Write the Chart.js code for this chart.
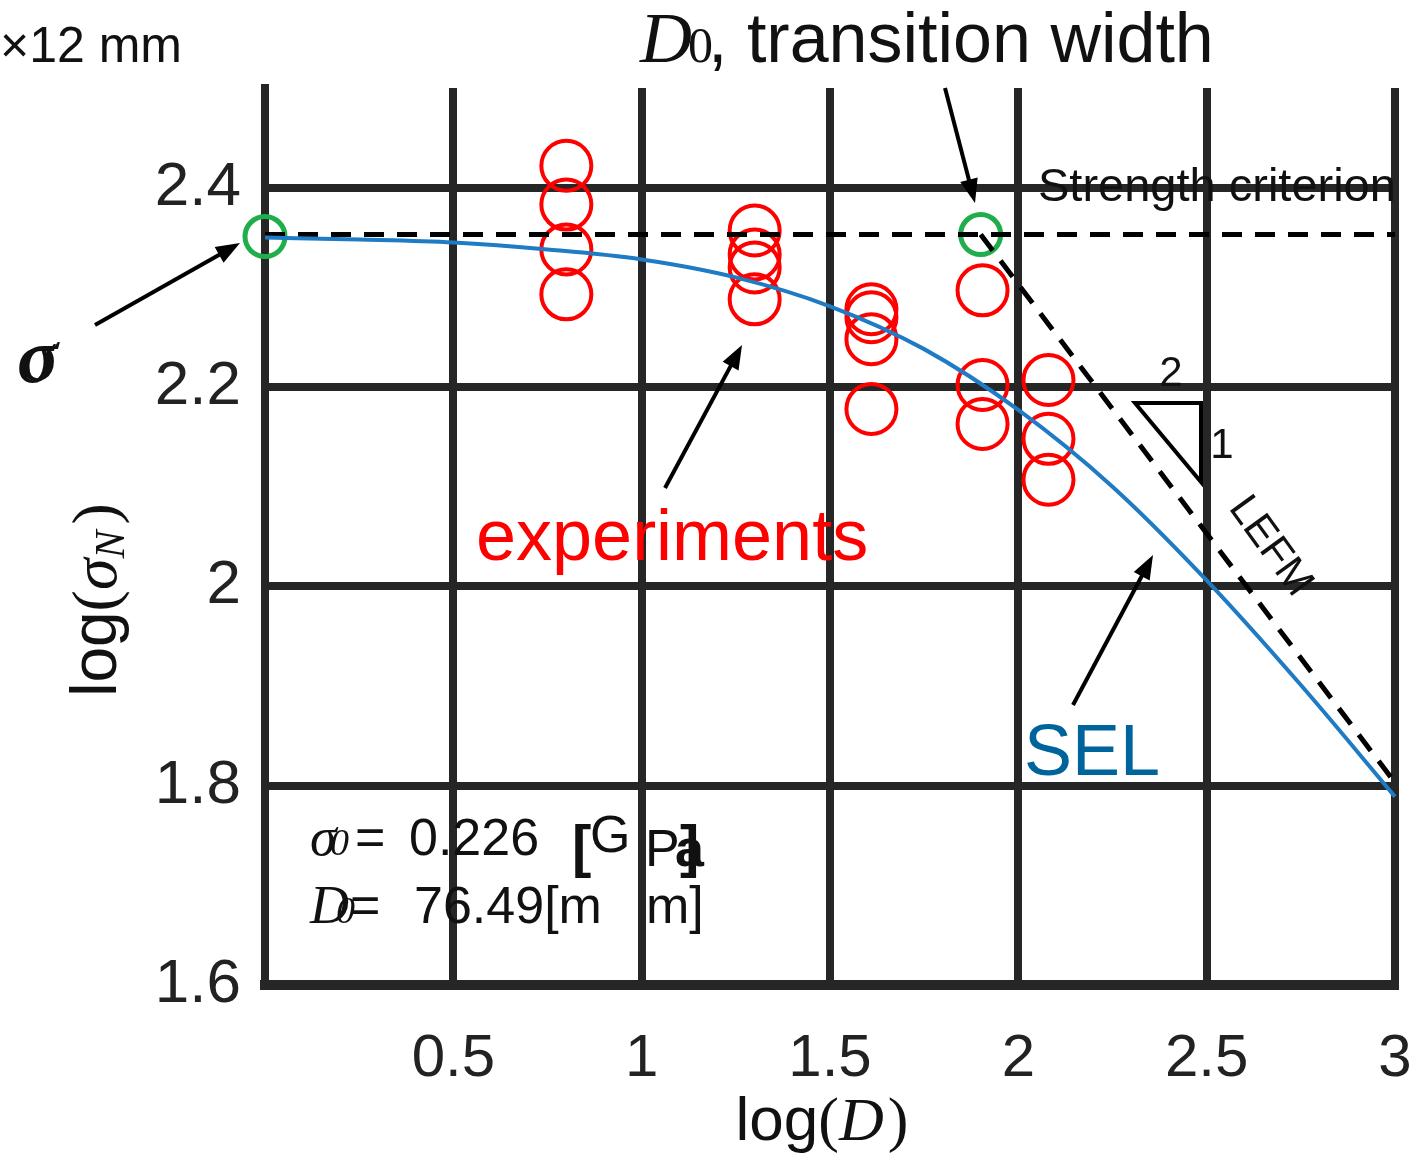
<!DOCTYPE html>
<html>
<head>
<meta charset="utf-8">
<script src="https://cdn.jsdelivr.net/npm/chart.js@4.4.0/dist/chart.umd.min.js"></script>
<style>
  html, body { margin: 0; padding: 0; background: #fff; }
  #wrap { width: 1424px; height: 1159px; }
</style>
</head>
<body>
<div id="wrap"><canvas id="sizeEffectChart" width="1424" height="1159"></canvas></div>
<script>
// x ticks and labels (log D)
const xTicks = [0, 0.5, 1, 1.5, 2, 2.5, 3];
const xTickLabels = ['', '0.5', '1', '1.5', '2', '2.5', '3'];
// y ticks and labels (log sigma_N)
const yTicks = [1.6, 1.8, 2.0, 2.2, 2.4];
const yTickLabels = ['1.6', '1.8', '2', '2.2', '2.4'];

// experiments (red circles)
const expLogD = [0.8, 0.8, 0.8, 0.8, 1.3, 1.3, 1.3, 1.3, 1.61, 1.61, 1.61, 1.61, 1.905, 1.905, 1.905, 2.08, 2.08, 2.08];
const expLogSigma = [2.422, 2.383, 2.338, 2.293, 2.357, 2.333, 2.32, 2.288, 2.278, 2.27, 2.248, 2.178, 2.297, 2.202, 2.163, 2.207, 2.148, 2.107];

// size effect law curve (blue)
const selLogD = [0, 0.25, 0.5, 0.75, 1.0, 1.25, 1.5, 1.75, 2.0, 2.25, 2.5, 2.75, 3.0];
const selLogSigma = [2.350, 2.348, 2.345, 2.338, 2.328, 2.310, 2.281, 2.238, 2.177, 2.100, 2.006, 1.901, 1.789];

// strength criterion (dashed horizontal) and LEFM asymptote (dashed, slope -1/2)
const strengthLogD = [0, 3];
const strengthLogSigma = [2.353, 2.353];
const lefmLogD = [1.9, 3];
const lefmLogSigma = [2.353, 1.803];

// green markers: sigma0 and D0
const greenLogD = [0, 1.9];
const greenLogSigma = [2.351, 2.353];

const toPoints = (xs, ys) => xs.map((x, i) => ({ x: x, y: ys[i] }));

const SANS = '"Liberation Sans", Arial, sans-serif';
const SERIF = '"Liberation Serif", "Times New Roman", serif';

function drawArrow(ctx, x1, y1, x2, y2) {
    const ang = Math.atan2(y2 - y1, x2 - x1);
    const head = 24, half = 9;
    ctx.save();
    ctx.strokeStyle = '#000';
    ctx.fillStyle = '#000';
    ctx.lineWidth = 4;
    ctx.beginPath();
    ctx.moveTo(x1, y1);
    ctx.lineTo(x2 - Math.cos(ang) * head * 0.8, y2 - Math.sin(ang) * head * 0.8);
    ctx.stroke();
    ctx.beginPath();
    ctx.moveTo(x2, y2);
    ctx.lineTo(x2 - Math.cos(ang) * head + Math.sin(ang) * half, y2 - Math.sin(ang) * head - Math.cos(ang) * half);
    ctx.lineTo(x2 - Math.cos(ang) * head - Math.sin(ang) * half, y2 - Math.sin(ang) * head + Math.cos(ang) * half);
    ctx.closePath();
    ctx.fill();
    ctx.restore();
}

function text(ctx, str, x, y, font, color, align) {
    ctx.font = font;
    ctx.fillStyle = color || '#111';
    ctx.textAlign = align || 'left';
    ctx.textBaseline = 'alphabetic';
    ctx.fillText(str, x, y);
}

// draw a sequence of text runs with different fonts, centred on cx
function runs(ctx, parts, cx, y) {
    let total = 0;
    parts.forEach(p => { ctx.font = p.font; total += ctx.measureText(p.t).width + (p.gap || 0); });
    let x = cx - total / 2;
    parts.forEach(p => {
        text(ctx, p.t, x, y + (p.dy || 0), p.font, '#111');
        ctx.font = p.font;
        x += ctx.measureText(p.t).width + (p.gap || 0);
    });
}

const annotations = {
    id: 'annotations',
    afterDraw(chart) {
        const ctx = chart.ctx;
        ctx.save();

        // top labels
        text(ctx, '×12 mm', 0, 62, '50px ' + SANS);
        text(ctx, 'D', 640, 62, 'italic 72px ' + SERIF);
        text(ctx, '0', 688, 62, '50px ' + SERIF);
        text(ctx, ', transition width', 708, 62, '70px ' + SANS);

        // sigma label on the left
        text(ctx, 'σ', 17, 382, 'italic 74px ' + SERIF);
        text(ctx, 'σ', 21, 380, 'italic 74px ' + SERIF);

        // arrows
        drawArrow(ctx, 95, 325, 240, 243);
        drawArrow(ctx, 945, 88, 975, 203);
        drawArrow(ctx, 665, 488, 742, 345);
        drawArrow(ctx, 1073, 705, 1153, 555);

        text(ctx, 'Strength criterion', 1038, 201, '47px ' + SANS);
        text(ctx, 'experiments', 476, 560, '72px ' + SANS, '#ff0000');
        text(ctx, 'SEL', 1024, 775, '72px ' + SANS, '#00649c');

        // slope triangle 2:1
        ctx.strokeStyle = '#000';
        ctx.lineWidth = 4;
        ctx.beginPath();
        ctx.moveTo(1135, 403);
        ctx.lineTo(1201, 403);
        ctx.lineTo(1201, 482);
        ctx.closePath();
        ctx.stroke();
        text(ctx, '2', 1171, 386, '42px ' + SANS, '#111', 'center');
        text(ctx, '1', 1222, 458, '42px ' + SANS, '#111', 'center');

        // LEFM rotated label
        ctx.save();
        ctx.translate(1228, 508);
        ctx.rotate(54 * Math.PI / 180);
        text(ctx, 'LEFM', 0, 0, '42px ' + SANS);
        ctx.restore();

        // parameters box
        text(ctx, 'σ', 310, 855, 'italic 54px ' + SERIF);
        text(ctx, '0', 330, 855, 'italic 38px ' + SERIF);
        text(ctx, '=', 355, 855, '52px ' + SANS);
        text(ctx, '0.226', 409, 855, '52px ' + SANS);
        text(ctx, '[', 572, 866, 'bold 58px ' + SANS);
        text(ctx, 'G', 590, 852, '52px ' + SANS);
        text(ctx, 'P', 645, 866, '52px ' + SANS);
        text(ctx, 'a', 675, 866, 'bold 52px ' + SANS);
        text(ctx, ']', 680, 866, 'bold 58px ' + SANS);

        text(ctx, 'D', 310, 923, 'italic 54px ' + SERIF);
        text(ctx, '0', 336, 923, 'italic 38px ' + SERIF);
        text(ctx, '=', 350, 923, '52px ' + SANS);
        text(ctx, '76.49[m', 414, 923, '52px ' + SANS);
        text(ctx, 'm]', 646, 923, '52px ' + SANS);

        // x axis title: log(D)
        runs(ctx, [
            { t: 'log', font: '62px ' + SANS },
            { t: '(', font: '62px ' + SERIF },
            { t: 'D', font: 'italic 62px ' + SERIF, gap: 4 },
            { t: ')', font: '62px ' + SERIF }
        ], 822, 1140);

        // y axis title: log(sigma_N), rotated
        ctx.save();
        ctx.translate(116, 600);
        ctx.rotate(-Math.PI / 2);
        runs(ctx, [
            { t: 'log', font: '64px ' + SANS },
            { t: '(', font: '64px ' + SERIF },
            { t: 'σ', font: 'italic 64px ' + SERIF },
            { t: 'N', font: 'italic 42px ' + SERIF, dy: 8, gap: 6 },
            { t: ')', font: '64px ' + SERIF }
        ], 0, 0);
        ctx.restore();

        ctx.restore();
    }
};

const gridColor = '#262626';

new Chart(document.getElementById('sizeEffectChart').getContext('2d'), {
    type: 'scatter',
    data: {
        datasets: [
            {
                label: 'SEL',
                data: toPoints(selLogD, selLogSigma),
                showLine: true,
                borderColor: '#1f7bc4',
                borderWidth: 4,
                pointRadius: 0,
                cubicInterpolationMode: 'monotone',
                clip: false
            },
            {
                label: 'Strength criterion',
                data: toPoints(strengthLogD, strengthLogSigma),
                showLine: true,
                borderColor: '#000',
                borderWidth: 5,
                borderDash: [20, 13],
                pointRadius: 0,
                clip: false
            },
            {
                label: 'LEFM',
                data: toPoints(lefmLogD, lefmLogSigma),
                showLine: true,
                borderColor: '#000',
                borderWidth: 5,
                borderDash: [20, 13],
                pointRadius: 0,
                clip: false
            },
            {
                label: 'experiments',
                data: toPoints(expLogD, expLogSigma),
                showLine: false,
                pointStyle: 'circle',
                pointRadius: 25,
                pointBorderWidth: 4,
                pointBorderColor: '#ff0000',
                pointBackgroundColor: 'rgba(0,0,0,0)',
                clip: false
            },
            {
                label: 'sigma0, D0',
                data: toPoints(greenLogD, greenLogSigma),
                showLine: false,
                pointStyle: 'circle',
                pointRadius: 20,
                pointBorderWidth: 5,
                pointBorderColor: '#1fae4b',
                pointBackgroundColor: 'rgba(0,0,0,0)',
                clip: false
            }
        ]
    },
    options: {
        responsive: false,
        animation: false,
        layout: { padding: { left: 0, right: 21, top: 88, bottom: 0 } },
        plugins: {
            legend: { display: false },
            tooltip: { enabled: false }
        },
        scales: {
            x: {
                type: 'linear',
                min: 0,
                max: 3,
                afterBuildTicks: scale => { scale.ticks = xTicks.map(v => ({ value: v })); },
                afterFit: scale => {
                    scale.height = 174;
                    scale.paddingLeft = 0;
                    scale.paddingRight = 0;
                },
                grid: { color: gridColor, lineWidth: 8, drawTicks: false },
                border: { display: true, color: gridColor, width: 10 },
                ticks: {
                    padding: 38,
                    maxRotation: 0,
                    autoSkip: false,
                    color: '#222',
                    font: { family: SANS, size: 60 },
                    callback: (v, i) => xTickLabels[xTicks.indexOf(v)]
                }
            },
            y: {
                type: 'linear',
                min: 1.6,
                max: 2.5,
                afterBuildTicks: scale => { scale.ticks = yTicks.map(v => ({ value: v })); },
                afterFit: scale => {
                    scale.width = 265;
                    scale.paddingTop = 0;
                    scale.paddingBottom = 0;
                },
                grid: { color: gridColor, lineWidth: 8, drawTicks: false },
                border: { display: true, color: gridColor, width: 8 },
                ticks: {
                    padding: 24,
                    autoSkip: false,
                    color: '#222',
                    font: { family: SANS, size: 62 },
                    callback: (v) => yTickLabels[yTicks.indexOf(v)]
                }
            }
        }
    },
    plugins: [annotations]
});
</script>
</body>
</html>
